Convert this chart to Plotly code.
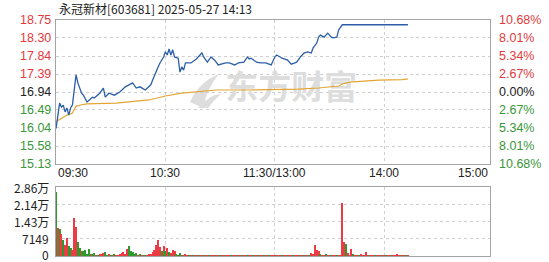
import plotly.graph_objects as go

# ---- quote header ----
stock_name = "永冠新材"
stock_code = "603681"
quote_time = "2025-05-27 14:13"
pre_close = 16.94

# ---- axis labels ----
price_ticks = [18.75, 18.30, 17.84, 17.39, 16.94, 16.49, 16.04, 15.58, 15.13]
pct_labels = ["10.68%", "8.01%", "5.34%", "2.67%", "0.00%", "2.67%", "5.34%", "8.01%", "10.68%"]
vol_ticks = [28596, 21447, 14298, 7149, 0]
vol_labels = ["2.86万", "2.14万", "1.43万", "7149", "0"]
time_ticks = [0, 60, 120, 180, 238]
time_labels = ["09:30", "10:30", "11:30/13:00", "14:00", "15:00"]

# ---- intraday price (minute index from 09:30, lunch break removed) ----
price_min = [0, 2, 3, 4, 5, 6, 7, 8, 9, 10, 11, 12, 13, 14, 15, 16, 17, 20, 21, 24,
             26, 27, 29, 32, 35, 38, 40, 42, 44, 46, 49, 50, 52, 53, 55, 56, 57, 59, 60, 61,
             62, 63, 64, 65, 67, 68, 69, 70, 71, 74, 77, 80, 81, 83, 85, 87, 89, 93, 95, 98,
             100, 103, 105, 106, 107, 110, 112, 115, 118, 120, 121, 124, 127, 129, 131, 132, 134, 136, 138, 140,
             141, 143, 144, 145, 147, 149, 151, 152, 154, 155, 157, 193]
price = [16.02, 16.66, 16.56, 16.61, 16.44, 16.54, 16.36, 16.54, 16.61, 16.94, 17.37, 17.17, 17.04, 16.91, 16.86, 16.79, 16.69, 16.81, 16.79, 16.91,
         17.04, 16.81, 16.91, 16.86, 16.94, 17.07, 17.12, 17.17, 17.04, 17.07, 16.99, 17.04, 17.12, 17.24, 17.49, 17.57, 17.67, 17.82, 17.95, 17.87,
         18.02, 17.87, 18.00, 17.82, 17.79, 17.44, 17.57, 17.49, 17.67, 17.67, 17.77, 17.92, 17.82, 17.69, 17.82, 17.74, 17.62, 17.67, 17.67, 17.62,
         17.67, 17.69, 17.82, 17.77, 17.79, 17.69, 17.67, 17.67, 17.62, 17.82, 17.87, 17.79, 17.74, 17.64, 17.67, 17.69, 17.82, 17.92, 17.95, 17.92,
         18.05, 18.17, 18.32, 18.37, 18.32, 18.42, 18.32, 18.30, 18.32, 18.50, 18.63, 18.63]

# ---- average price ----
avg_min = [0, 3, 6, 9, 11, 14, 17, 33, 51, 60, 69, 88, 106, 133, 144, 155, 157, 161, 169, 177, 190, 193]
avg_price = [16.19, 16.28, 16.36, 16.41, 16.58, 16.62, 16.64, 16.66, 16.74, 16.84, 16.91, 16.99, 16.99, 17.01, 17.04, 17.09, 17.14, 17.19, 17.22, 17.24, 17.25, 17.27]

# ---- volume per minute (shares) and direction (1 up, -1 down) ----
volume = [
    26500, 11600, 11200, 9100, 6600, 4500, 7460, 4100, 3300, 2500,
    15750, 12000, 5800, 3300, 2070, 2070, 2490, 800, 2900, 600,
    500, 1250, 400, 300, 700, 500, 1240, 1660, 400, 600,
    300, 300, 500, 300, 400, 500, 1240, 1660, 700, 2900,
    4140, 2070, 1500, 500, 1240, 300, 500, 300, 400, 300,
    400, 500, 600, 1660, 2490, 4560, 6600, 3700, 2070, 4140,
    2070, 3300, 1660, 1240, 2490, 2070, 600, 400, 1240, 400,
    300, 500, 350, 300, 400, 300, 350, 300, 400, 300,
    350, 400, 300, 350, 300, 400, 300, 350, 300, 400,
    300, 350, 400, 300, 350, 300, 400, 300, 350, 300,
    400, 300, 350, 300, 400, 350, 300, 400, 300, 350,
    300, 400, 300, 350, 300, 400, 300, 350, 300, 400,
    350, 300, 400, 300, 350, 300, 400, 300, 350, 300,
    400, 300, 350, 300, 400, 300, 350, 300, 400, 300,
    1240, 800, 4560, 2490, 2070, 800, 400, 300, 500, 300,
    350, 300, 400, 300, 350, 300, 400, 21960, 5800, 4970,
    1240, 400, 2900, 500, 300, 400, 300, 830, 400, 300,
    1660, 350, 300, 400, 300, 350, 300, 400, 300, 350,
    300, 400, 300, 350, 300, 400, 300, 830, 350, 300,
    400, 300, 350, 300,
]
direction = [
    -1, 1, -1, 1, -1, 1, 1, -1, -1, 1,
    1, 1, -1, -1, 1, -1, -1, -1, -1, 1,
    -1, -1, 1, -1, 1, 1, 1, -1, -1, 1,
    -1, 1, -1, 1, 1, 1, 1, 1, 1, 1,
    -1, -1, -1, -1, -1, 1, -1, 1, -1, -1,
    1, 1, 1, 1, 1, 1, 1, 1, -1, 1,
    -1, 1, -1, 1, 1, 1, -1, -1, -1, 1,
    -1, 1, 1, -1, 1, -1, 1, 1, -1, 1,
    1, -1, 1, 1, -1, 1, 1, -1, 1, 1,
    -1, 1, 1, -1, 1, 1, -1, 1, 1, -1,
    1, 1, -1, 1, 1, -1, 1, 1, -1, 1,
    1, -1, 1, 1, -1, 1, 1, -1, 1, 1,
    1, -1, 1, 1, -1, 1, 1, -1, 1, 1,
    -1, 1, 1, -1, 1, 1, -1, 1, 1, -1,
    1, 1, 1, 1, 1, -1, 1, 1, -1, 1,
    1, -1, 1, 1, -1, 1, 1, 1, 1, -1,
    1, 1, 1, -1, 1, 1, -1, 1, 1, 1,
    1, 1, -1, 1, 1, -1, 1, 1, -1, 1,
    1, -1, 1, 1, -1, 1, 1, 1, 1, -1,
    1, 1, -1, 1,
]
vol_min = list(range(len(volume)))

# ---- styling ----
W, H = 549, 262
RED, GREEN, BLACK = "#e4393c", "#3a963a", "#222222"
BAR_RED, BAR_GREEN = "#ec3b45", "#2e9a2e"
FRAME, GRID = "#a4a4a4", "#cfcfcf"
MARK = "#dddddd"
LABEL_FONT = "Liberation Sans, Arial, sans-serif"
CJK_FONT = "Noto Sans CJK SC, sans-serif"

x_dom = [56 / W, 490 / W]
price_dom = [1 - 164 / H, 1 - 20 / H]
vol_dom = [1 - 256 / H, 1 - 187 / H]


def px(x, y):
    """Pixel position -> paper coordinates string for SVG paths."""
    return f"{x / W:.5f},{1 - y / H:.5f}"


def level_color(v):
    if abs(v - pre_close) < 1e-6:
        return BLACK
    return RED if v > pre_close else GREEN


fig = go.Figure()

# watermark text, drawn first so the lines pass over it
fig.add_trace(go.Scatter(
    x=[129], y=[16.96], mode="text", text=["东方财富"],
    textfont=dict(family=CJK_FONT, size=33, color=MARK, weight="bold"),
    hoverinfo="skip", showlegend=False, xaxis="x", yaxis="y",
))

fig.add_trace(go.Scatter(
    x=avg_min, y=avg_price, mode="lines",
    line=dict(color="#e2a533", width=1.2),
    hoverinfo="skip", showlegend=False, xaxis="x", yaxis="y",
))
fig.add_trace(go.Scatter(
    x=price_min, y=price, mode="lines",
    line=dict(color="#2c5ea8", width=1.3),
    hoverinfo="skip", showlegend=False, xaxis="x", yaxis="y",
))

fig.add_trace(go.Bar(
    x=vol_min, y=volume, width=0.55,
    marker=dict(color=[BAR_RED if d > 0 else BAR_GREEN for d in direction], line=dict(width=0)),
    hoverinfo="skip", showlegend=False, xaxis="x2", yaxis="y2",
))

axis_common = dict(
    showline=True, mirror=True, linecolor=FRAME, linewidth=1,
    showgrid=True, gridcolor=GRID, griddash="3px,3px", gridwidth=1,
    zeroline=False, ticks="", showticklabels=False, fixedrange=True,
)

# watermark logo swoosh, kept beneath the traces
logo_paths = [
    "M " + px(190, 102) + " Q " + px(199, 82) + " " + px(219, 74)
    + " Q " + px(207, 88) + " " + px(203, 108) + " Z",
    "M " + px(198, 108) + " Q " + px(210, 94) + " " + px(221, 94)
    + " Q " + px(213, 101) + " " + px(208, 108) + " Z",
]
shapes = [dict(type="path", xref="paper", yref="paper", path=p,
               fillcolor=MARK, line=dict(width=0), layer="below") for p in logo_paths]

fig.update_layout(
    width=W, height=H,
    margin=dict(l=0, r=0, t=0, b=0),
    paper_bgcolor="white", plot_bgcolor="white",
    hovermode=False, bargap=0,
    shapes=shapes,
    xaxis=dict(domain=x_dom, range=[0, 238], anchor="y",
               tickvals=time_ticks[1:4], **axis_common),
    yaxis=dict(domain=price_dom, range=[price_ticks[-1], price_ticks[0]], anchor="x",
               tickvals=price_ticks, **axis_common),
    xaxis2=dict(domain=x_dom, range=[0, 238], anchor="y2",
                tickvals=time_ticks[1:4], **axis_common),
    yaxis2=dict(domain=vol_dom, range=[0, vol_ticks[0]], anchor="x2",
                tickvals=vol_ticks, **axis_common),
)

ann = []
# header
ann.append(dict(
    text=f"{stock_name}[{stock_code}] {quote_time}",
    xref="paper", yref="paper", x=57 / W, y=1 - 8 / H,
    xanchor="left", yanchor="middle", showarrow=False,
    font=dict(family=CJK_FONT, size=12, color="#222222"),
))
# price labels (left) and change labels (right)
for v, pct in zip(price_ticks, pct_labels):
    c = level_color(v)
    ann.append(dict(text=f"{v:.2f}", xref="paper", yref="y", x=53 / W, y=v,
                    xanchor="right", yanchor="middle", showarrow=False,
                    font=dict(family=LABEL_FONT, size=12.5, color=c)))
    ann.append(dict(text=pct, xref="paper", yref="y", x=497 / W, y=v,
                    xanchor="left", yanchor="middle", showarrow=False,
                    font=dict(family=LABEL_FONT, size=12.5, color=c)))
# volume labels; the zero label sits just above the bottom edge of the page
for v, lab in zip(vol_ticks, vol_labels):
    ann.append(dict(text=lab, xref="paper", yref="y2", x=51 / W, y=v,
                    xanchor="right", yanchor="middle", showarrow=False,
                    yshift=2 if v == 0 else 0,
                    font=dict(family=CJK_FONT, size=12, color="#222222")))
# time labels
anchors = ["left", "center", "center", "center", "right"]
for t, lab, a in zip(time_ticks, time_labels, anchors):
    ann.append(dict(text=lab, xref="x", yref="paper", x=t, y=1 - 173 / H,
                    xanchor=a, yanchor="middle", showarrow=False,
                    font=dict(family=LABEL_FONT, size=12, color="#222222")))

fig.update_layout(annotations=ann)

fig.write_html("out.html")
